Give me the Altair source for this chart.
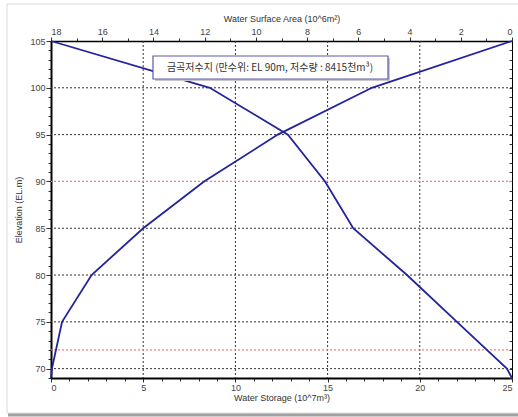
import altair as alt
import pandas as pd

# ---- data ----
elevation = [69, 70, 75, 80, 85, 90, 95, 100, 105]
storage = [0.0, 0.05, 0.6, 2.2, 5.0, 8.3, 12.3, 17.4, 25.0]     # 10^7 m3
area = [0.0, 0.2, 2.15, 4.1, 6.2, 7.3, 8.75, 11.8, 18.0]         # 10^6 m2

storage_ticks = [0, 5, 10, 15, 20, 25]
storage_minor = list(range(0, 26))
area_ticks = [0, 2, 4, 6, 8, 10, 12, 14, 16, 18]
area_minor = list(range(0, 19))
elev_ticks = [70, 75, 80, 85, 90, 95, 100, 105]
elev_minor = list(range(69, 106))
grid_elev = [70, 75, 80, 85, 95, 100]
grid_storage = [5, 10, 15, 20]
red_levels = [90, 72]
legend_text = ["금곡저수지 (만수위: EL 90m, 저수량 : 8415천m³)"]

FONT = "Liberation Sans"
KFONT = "Noto Sans CJK KR"
LINE = "#23239a"

df = pd.DataFrame({"elev": elevation, "storage": storage, "area": area})

xs = alt.Scale(domain=[0, 25], nice=False, zero=False)
xa = alt.Scale(domain=[0, 18], reverse=True, nice=False, zero=False)
ys = alt.Scale(domain=[69, 105], nice=False, zero=False)

lab = dict(labelFont=FONT, labelFontSize=9, labelColor="#444", titleFont=FONT,
           titleFontSize=9, titleFontWeight="normal", titleColor="#333",
           tickColor="#333", domainColor="#000")

# grid
gx = alt.Chart(pd.DataFrame({"v": grid_storage})).mark_rule(
    color="#333", strokeDash=[2, 2], strokeWidth=1).encode(
    x=alt.X("v:Q", scale=xs, axis=None))
gy = alt.Chart(pd.DataFrame({"v": grid_elev})).mark_rule(
    color="#333", strokeDash=[2, 2], strokeWidth=1).encode(
    y=alt.Y("v:Q", scale=ys, axis=None))
gr = alt.Chart(pd.DataFrame({"lvl": red_levels})).mark_rule(
    color="#ff7a7a", strokeDash=[2, 2], strokeWidth=1.2).encode(
    y=alt.Y("lvl:Q", scale=ys, axis=None))

# storage curve with bottom and left axes
st = alt.Chart(df).mark_line(color=LINE, strokeWidth=1.8).encode(
    x=alt.X("storage:Q", scale=xs,
            axis=alt.Axis(orient="bottom", values=storage_ticks, title="Water Storage (10^7m³)",
                          tickSize=4, labelPadding=1, titlePadding=1, domainWidth=2,
                          grid=False, **lab)),
    y=alt.Y("elev:Q", scale=ys,
            axis=alt.Axis(orient="left", values=elev_ticks, title="Elevation (EL.m)",
                          tickSize=5, labelPadding=1, titlePadding=6, domainWidth=2,
                          grid=False, **lab)),
    order=alt.Order("elev:Q"))

# area curve with top axis
ar = alt.Chart(df).mark_line(color=LINE, strokeWidth=1.8).encode(
    x=alt.X("area:Q", scale=xa,
            axis=alt.Axis(orient="top", values=area_ticks, title="Water Surface Area (10^6m²)",
                          tickSize=4, labelPadding=1, titlePadding=4, domainWidth=1.5,
                          grid=False, **lab)),
    y=alt.Y("elev:Q", scale=ys, axis=None),
    order=alt.Order("elev:Q"))

# minor ticks
mn1 = alt.Chart(df).mark_point(opacity=0).encode(
    x=alt.X("storage:Q", scale=xs,
            axis=alt.Axis(orient="bottom", values=storage_minor, labels=False, title=None,
                          tickSize=3, domain=False, grid=False, tickColor="#333")),
    y=alt.Y("elev:Q", scale=ys,
            axis=alt.Axis(orient="left", values=elev_minor, labels=False, title=None,
                          tickSize=3, domain=False, grid=False, tickColor="#333")))
mn2 = alt.Chart(df).mark_point(opacity=0).encode(
    x=alt.X("area:Q", scale=xa,
            axis=alt.Axis(orient="top", values=area_minor, labels=False, title=None,
                          tickSize=3, domain=False, grid=False, tickColor="#333")),
    y=alt.Y("elev:Q", scale=ys,
            axis=alt.Axis(orient="right", values=elev_minor, labels=False, title=None,
                          tickSize=3, offset=-3, domain=False, grid=False, tickColor="#333")))

# legend box
box_df = pd.DataFrame({"t": legend_text})
shadow = alt.Chart(box_df).mark_rect(fill="#c8c8c8").encode(
    x=alt.value(104), x2=alt.value(339), y=alt.value(17), y2=alt.value(40))
box = alt.Chart(box_df).mark_rect(fill="white", stroke="#5a5aaa", strokeWidth=1.2).encode(
    x=alt.value(102), x2=alt.value(337), y=alt.value(15), y2=alt.value(38))
txt = alt.Chart(box_df).mark_text(font=KFONT, fontSize=10, color="#333", align="center",
                                  baseline="middle").encode(
    x=alt.value(219), y=alt.value(27), text="t:N")

# outer frame
frame = alt.Chart(box_df).mark_rect(fill=None, stroke="#d8d8d8", strokeWidth=1).encode(
    x=alt.value(-44), x2=alt.value(480), y=alt.value(-37), y2=alt.value(372))
fshadow = alt.Chart(box_df).mark_rule(color="#a0a0a0", strokeWidth=3).encode(
    x=alt.value(-43), x2=alt.value(480), y=alt.value(374))

chart = alt.layer(frame, fshadow, gx, gy, gr, mn1, mn2, st, ar, shadow, box, txt).resolve_scale(
    x="independent", y="independent").properties(
    width=461, height=337,
    autosize=alt.AutoSizeParams(type="none"),
    padding={"left": 51, "top": 41, "right": 6, "bottom": 39},
    background="white").configure_view(stroke="#000", strokeWidth=1)

chart.save("out.html", embed_options={"renderer": "svg", "actions": False})
